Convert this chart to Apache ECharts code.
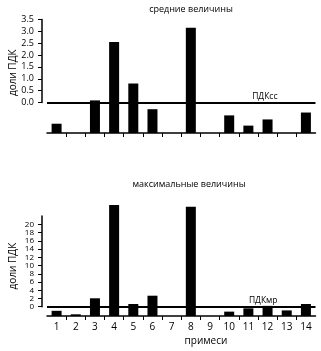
<!DOCTYPE html>
<html><head><meta charset="utf-8">
<script src="https://cdn.jsdelivr.net/npm/echarts@6/dist/echarts.min.js"></script>
<style>html,body{margin:0;padding:0;background:#fff}#c{width:321px;height:351px}</style>
</head><body><div id="c"></div>
<script>
const categories = ['1','2','3','4','5','6','7','8','9','10','11','12','13','14'];
const meanValues = [-0.88, null, 0.1, 2.55, 0.81, -0.27, null, 3.15, null, -0.53, -0.96, -0.70, null, -0.41];
const maxValues  = [-1.0, -1.85, 2.04, 24.7, 0.66, 2.67, null, 24.25, null, -1.2, -0.4, 0.2, -0.9, 0.65];
const meanTicks = [0, 0.5, 1, 1.5, 2, 2.5, 3, 3.5];
const maxTicks  = [0, 2, 4, 6, 8, 10, 12, 14, 16, 18, 20];
const meanAxis = {max: 3.5, below: 1.27};
const maxAxis  = {max: 22, below: 2.26};
const titles = ['средние величины', 'максимальные величины'];
const refLabels = ['ПДКсс', 'ПДКмр'];
const yName = 'доли ПДК';
const xName = 'примеси';

const FONT = 'Open Sans';
const chart = echarts.init(document.getElementById('c'), null, {renderer: 'canvas'});
const shift = (arr, off) => arr.map(v => v == null ? null : +(v + off).toFixed(3));
const innerBoundaries = categories.slice(1).map((c, i) => i + 1);

const L = 42, R = 5.5;
const grids = [
  {left: L, right: R, top: 19.5, bottom: 218},
  {left: L, right: R, top: 19.5, bottom: 248.5},
  {left: L, right: R, top: 216.1, bottom: 35},
  {left: L, right: R, top: 216.1, bottom: 44.3}
];
const txt = {color: '#000', fontFamily: FONT, fontSize: 9};

function catAxis(gi, showLine, showLabels) {
  return {
    type: 'category', gridIndex: gi, data: categories, boundaryGap: true,
    show: true,
    axisLine: {show: showLine, lineStyle: {color: '#000', width: 1.5}},
    axisTick: {show: false},
    axisLabel: {show: showLabels, ...txt, fontSize: 10, margin: 6},
    splitLine: {show: false}
  };
}
function tickAxis(gi) {
  return {
    type: 'value', gridIndex: gi, min: 0, max: categories.length, position: 'bottom',
    axisLine: {show: false},
    axisTick: {show: true, length: 4, inside: false, lineStyle: {color: '#000', width: 1}, customValues: innerBoundaries},
    axisLabel: {show: false}, splitLine: {show: false}
  };
}
function dataY(gi, ax, nameShift) {
  return {
    type: 'value', gridIndex: gi, min: 0, max: ax.max + ax.below,
    axisLine: {show: false}, axisTick: {show: false}, axisLabel: {show: false}, splitLine: {show: false},
    name: yName, nameLocation: 'middle', nameGap: 29, nameRotate: 90,
    nameTextStyle: {...txt, fontSize: 10, padding: nameShift}
  };
}
function labelY(gi, ax, ticks, dec, fs) {
  return {
    type: 'value', gridIndex: gi, min: 0, max: ax.max,
    axisLine: {show: true, lineStyle: {color: '#000', width: 1.5}},
    axisTick: {show: true, length: 4, lineStyle: {color: '#000', width: 1}, customValues: ticks},
    axisLabel: {...txt, fontSize: fs, lineHeight: fs, margin: 8, customValues: ticks, hideOverlap: false,
      showMinLabel: true, showMaxLabel: true,
      formatter: v => dec ? v.toFixed(1) : String(v)},
    splitLine: {show: false}
  };
}
function barSeries(xi, yi, vals, ax, label) {
  return {
    type: 'bar', xAxisIndex: xi, yAxisIndex: yi, data: shift(vals, ax.below),
    barWidth: 10, clip: false, itemStyle: {color: '#000'},
    markLine: {
      silent: true, symbol: 'none',
      lineStyle: {color: '#000', width: 2, type: 'solid'},
      label: {show: true, position: 'insideEndTop', formatter: label, ...txt, fontSize: 8.5, distance: 2, padding: [0, 36, 0, 0]},
      data: [{yAxis: ax.below}]
    }
  };
}

chart.setOption({
  backgroundColor: '#fff',
  animation: false,
  grid: grids,
  xAxis: [catAxis(0, true, false), {...catAxis(1, false, false), show: false},
          catAxis(2, true, true), {...catAxis(3, false, false), show: false},
          tickAxis(0), tickAxis(2)],
  yAxis: [dataY(0, meanAxis, [0, 0, 0, 7]), labelY(1, meanAxis, meanTicks, true, 9),
          dataY(2, maxAxis, [0, 0, 0, 0]), labelY(3, maxAxis, maxTicks, false, 8)],
  series: [barSeries(0, 0, meanValues, meanAxis, refLabels[0]),
           barSeries(2, 2, maxValues, maxAxis, refLabels[1])],
  graphic: [
    {type: 'text', x: 191, y: 9, style: {text: titles[0], fill: '#000', font: '9px "' + FONT + '"', textAlign: 'center', textVerticalAlign: 'middle'}},
    {type: 'text', x: 189, y: 184, style: {text: titles[1], fill: '#000', font: '9px "' + FONT + '"', textAlign: 'center', textVerticalAlign: 'middle'}},
    {type: 'text', x: 206, y: 341, style: {text: xName, fill: '#000', font: '10px "' + FONT + '"', textAlign: 'center', textVerticalAlign: 'middle'}}
  ]
});
</script></body></html>
